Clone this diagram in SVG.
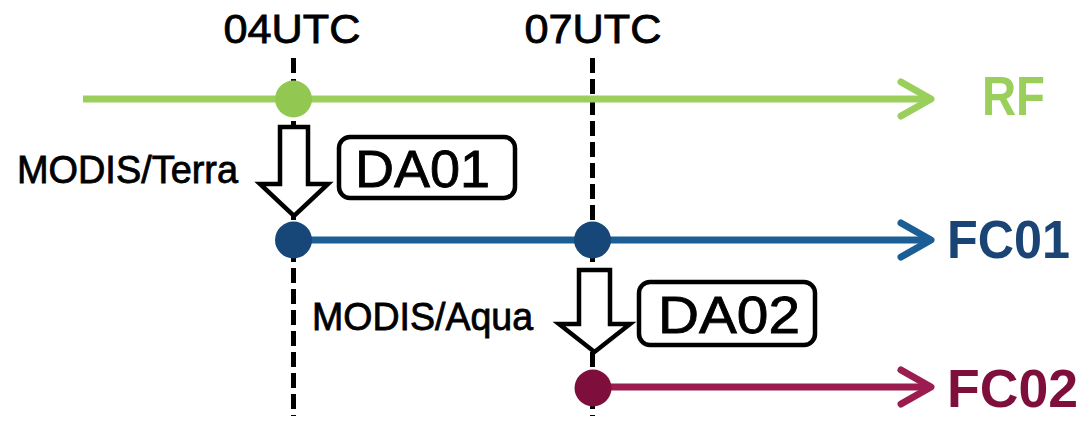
<svg xmlns="http://www.w3.org/2000/svg" width="1083" height="422" viewBox="0 0 1083 422">
<style>
.dash{stroke:#000;stroke-width:5;stroke-dasharray:15 6;fill:none}
.hollow{fill:#fff;stroke:#000;stroke-width:4.5;stroke-linejoin:miter}
.box{fill:#fff;stroke:#000;stroke-width:4.5}
.lbl{font-family:"Liberation Sans",Arial,sans-serif;fill:#000;stroke:#000;stroke-width:0.8}
.big{font-family:"Liberation Sans",Arial,sans-serif;font-weight:bold}
.chev{fill:none;stroke-width:7;stroke-linecap:round;stroke-linejoin:round}
</style>
<rect width="1083" height="422" fill="#fff"/>
<g id="connectors">
<line class="dash" x1="293.5" y1="58" x2="293.5" y2="416"/>
<line class="dash" x1="592.5" y1="58" x2="592.5" y2="416"/>
<line x1="83" y1="99" x2="930" y2="99" stroke="#9BCF5C" stroke-width="7"/>
<polyline class="chev" points="901,82 931,99 901,116" stroke="#9BCF5C"/>
<line x1="293" y1="240" x2="930" y2="240" stroke="#1B5E96" stroke-width="7"/>
<polyline class="chev" points="901,223 931,240 901,257" stroke="#1B5E96"/>
<line x1="593" y1="387" x2="930" y2="387" stroke="#9B1C4F" stroke-width="7"/>
<polyline class="chev" points="901,370 931,387 901,404" stroke="#9B1C4F"/>
<path id="arrow1" class="hollow" d="M280,127 H308 V184 H328 L294,216 L260,184 H280 Z"/>
<path id="arrow2" class="hollow" d="M579,270 H610 V324 H630 L594.5,352 L559,324 H579 Z"/>
</g>
<g id="time04"><text class="lbl" x="292" y="43" font-size="40" text-anchor="middle" textLength="137" lengthAdjust="spacingAndGlyphs">04UTC</text></g>
<g id="time07"><text class="lbl" x="593" y="43" font-size="40" text-anchor="middle" textLength="137" lengthAdjust="spacingAndGlyphs">07UTC</text></g>
<g id="rf-node"><circle cx="293.5" cy="99" r="18.5" fill="#92C851"/></g>
<g id="fc01-node-a"><circle cx="293.5" cy="240" r="18.5" fill="#174778"/></g>
<g id="fc01-node-b"><circle cx="592.5" cy="240" r="18.5" fill="#174778"/></g>
<g id="fc02-node"><circle cx="593" cy="388" r="18.5" fill="#7E0F3C"/></g>
<g id="rf-label"><text class="big" x="982" y="115" font-size="55" fill="#9BCF5C" textLength="63" lengthAdjust="spacingAndGlyphs">RF</text></g>
<g id="fc01-label"><text class="big" x="947" y="258" font-size="53" fill="#1A4474" textLength="123" lengthAdjust="spacingAndGlyphs">FC01</text></g>
<g id="fc02-label"><text class="big" x="947" y="407" font-size="53" fill="#7E0F3C" textLength="131" lengthAdjust="spacingAndGlyphs">FC02</text></g>
<g id="terra"><text class="lbl" x="17" y="183" font-size="38" textLength="221" lengthAdjust="spacingAndGlyphs">MODIS/Terra</text></g>
<g id="aqua"><text class="lbl" x="312" y="330" font-size="38" textLength="221" lengthAdjust="spacingAndGlyphs">MODIS/Aqua</text></g>
<g id="da01">
<rect class="box" x="339" y="137" width="176" height="61" rx="11"/>
<text class="lbl" x="355" y="187" font-size="51" stroke-width="1.2" textLength="135" lengthAdjust="spacingAndGlyphs">DA01</text>
</g>
<g id="da02">
<rect class="box" x="639" y="282" width="176" height="63" rx="11"/>
<text class="lbl" x="658" y="333" font-size="51" stroke-width="1.2" textLength="142" lengthAdjust="spacingAndGlyphs">DA02</text>
</g>
</svg>
